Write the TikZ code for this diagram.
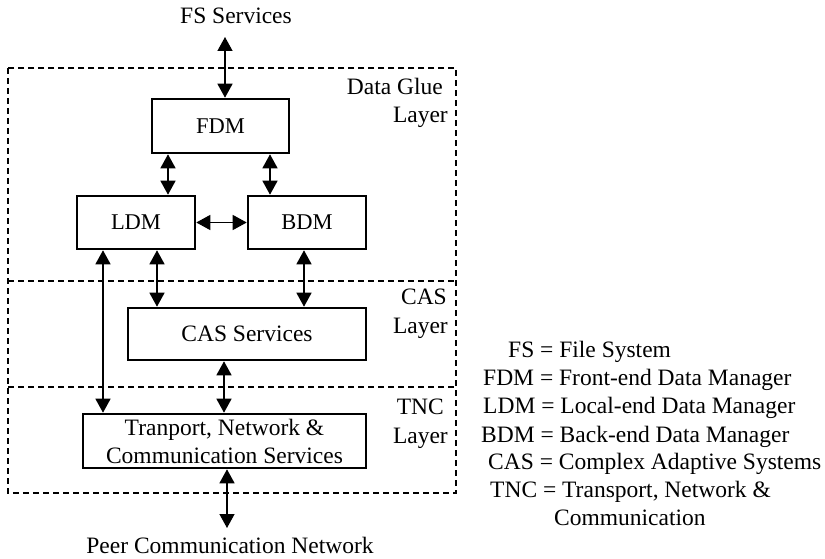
\documentclass[tikz,border=0pt]{standalone}
\usepackage{fontspec}
\setmainfont{Liberation Serif}
\usetikzlibrary{arrows.meta}
\tikzset{
  blk/.style={draw, line width=2.6pt, inner sep=0pt, align=center,
              font=\fontsize{23.5}{28}\selectfont},
  blkthin/.style={blk, font=\fontsize{22.5}{26}\selectfont},
  txt/.style={inner sep=0pt, font=\fontsize{23.5}{28}\selectfont},
  biarrow/.style={line width=1.4pt,
    {Triangle[length=14pt,width=15pt]}-{Triangle[length=14pt,width=15pt]}},
  layerline/.style={line width=1.5pt, dash pattern=on 6pt off 4pt}
}
\begin{document}
\begin{tikzpicture}[x=1pt,y=-1pt]
\useasboundingbox (0,0) rectangle (825,559);

% layer frames
\draw[layerline] (8,68) rectangle (456,493);
\draw[layerline] (8,281) -- (456,281);
\draw[layerline] (8,387) -- (456,387);

% layer names
\node[txt, anchor=base east] (dgl1) at (443,95) {Data Glue};
\node[txt, anchor=base east] (dgl2) at (448,123) {Layer};
\node[txt, anchor=base east] (casl1) at (447,304) {CAS};
\node[txt, anchor=base east] (casl2) at (448,333) {Layer};
\node[txt, anchor=base east] (tncl1) at (444,414) {TNC};
\node[txt, anchor=base east] (tncl2) at (448,443) {Layer};

% blocks
\node[blkthin, minimum width=137pt, minimum height=54pt] (fdm) at (220.5,126) {FDM};
\node[blkthin, minimum width=118pt, minimum height=53pt] (ldm) at (136,222.5) {LDM};
\node[blkthin, minimum width=118pt, minimum height=53pt] (bdm) at (307,222.5) {BDM};
\node[blk, minimum width=238pt, minimum height=52pt] (cas) at (247,334) {CAS Services};
\node[blk, minimum width=283pt, minimum height=54pt] (tnc) at (224.5,441)
  {Tranport, Network \&\\Communication Services};

% outer ends
\node[txt, anchor=base] (fs) at (236,24) {FS Services};
\node[txt, anchor=base] (peer) at (230,553) {Peer Communication Network};
\coordinate (fsend) at (225,37);
\coordinate (peerend) at (227,528);

% connectors
\draw[biarrow] (fsend) -- ([xshift=4.5pt]fdm.north);
\draw[biarrow] ([xshift=-52.5pt]fdm.south) -- ([xshift=-52.5pt]fdm.south |- ldm.north);
\draw[biarrow] ([xshift=49.5pt]fdm.south) -- ([xshift=49.5pt]fdm.south |- bdm.north);
\draw[biarrow] (ldm.east) -- (bdm.west);
\draw[biarrow] ([xshift=-33pt]ldm.south) -- ([xshift=-33pt]ldm.south |- tnc.north);
\draw[biarrow] ([xshift=21pt]ldm.south) -- ([xshift=21pt]ldm.south |- cas.north);
\draw[biarrow] ([xshift=-3pt]bdm.south) -- ([xshift=-3pt]bdm.south |- cas.north);
\draw[biarrow] ([xshift=-23pt]cas.south) -- ([xshift=-23pt]cas.south |- tnc.north);
\draw[biarrow] (tnc.south -| peerend) -- (peerend);

% legend
\node[txt, anchor=base west] (lg1) at (508,357) {FS = File System};
\node[txt, anchor=base west] (lg2) at (483,385) {FDM = Front-end Data Manager};
\node[txt, anchor=base west] (lg3) at (483,413) {LDM = Local-end Data Manager};
\node[txt, anchor=base west] (lg4) at (481,442) {BDM = Back-end Data Manager};
\node[txt, anchor=base west] (lg5) at (488,469) {CAS = Complex Adaptive Systems};
\node[txt, anchor=base west] (lg6) at (490,497) {TNC = Transport, Network \&};
\node[txt, anchor=base west] (lg7) at (554,525) {Communication};
\end{tikzpicture}
\end{document}
